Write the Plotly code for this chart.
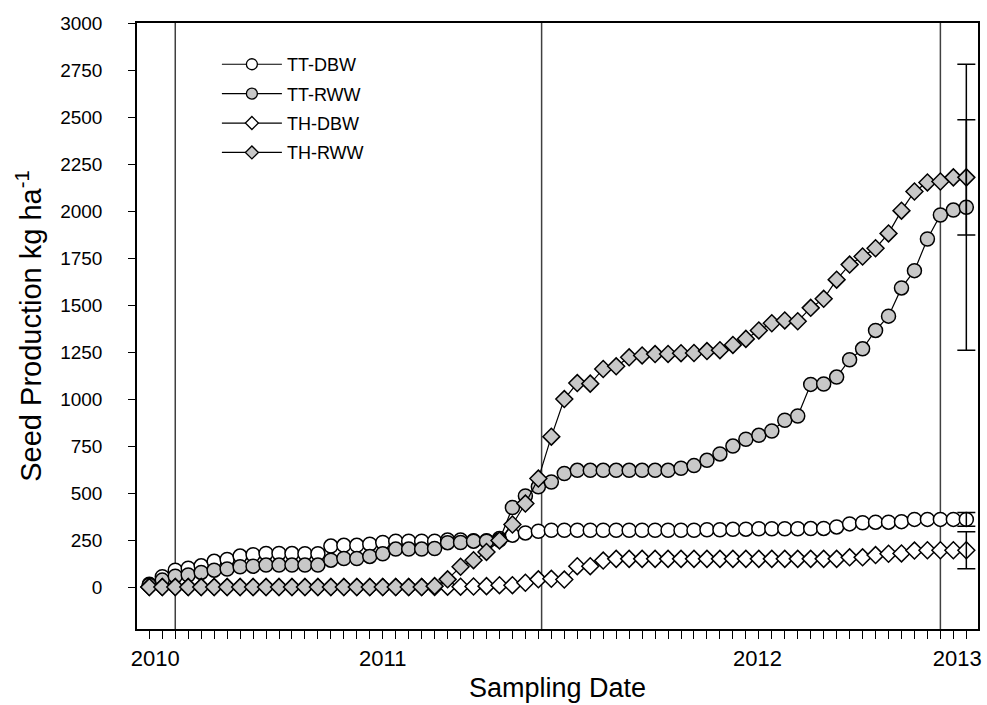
import plotly.graph_objects as go

# ---------------- data ----------------
sample_index = list(range(64))

tt_dbw = [15, 55, 90, 100, 113, 137, 147, 165, 172, 179, 179, 178, 177, 177, 218, 222,
          222, 228, 237, 244, 244, 244, 244, 250, 250, 247, 246, 258, 276, 288, 297, 302,
          302, 302, 302, 302, 302, 302, 302, 302, 302, 302, 302, 305, 305, 307, 308, 310,
          310, 310, 310, 311, 312, 320, 336, 342, 345, 345, 348, 360, 360, 360, 360, 360]

tt_rww = [10, 37, 58, 64, 78, 90, 96, 108, 111, 117, 117, 117, 117, 117, 143, 152,
          152, 163, 177, 202, 202, 202, 205, 236, 237, 244, 244, 250, 423, 485, 533, 559,
          604, 621, 621, 621, 621, 621, 621, 621, 621, 632, 646, 674, 708, 750, 786, 807,
          830, 887, 910, 1078, 1080, 1117, 1209, 1267, 1365, 1441, 1591, 1683, 1851, 1979, 2005, 2020]

th_dbw = [0, 0, 0, 0, 0, 0, 0, 0, 0, 0, 0, 0, 0, 0, 0, 0,
          0, 0, 0, 0, 0, 0, 0, 2, 2, 3, 5, 10, 10, 23, 41, 44,
          40, 111, 111, 141, 150, 150, 150, 150, 150, 150, 150, 150, 150, 150, 150, 150,
          150, 150, 150, 150, 150, 150, 158, 158, 170, 177, 179, 194, 196, 196, 196, 196]

th_rww = [0, 0, 0, 0, 0, 0, 0, 0, 0, 0, 0, 0, 0, 0, 0, 0,
          0, 0, 0, 0, 0, 0, 5, 41, 108, 143, 187, 248, 333, 444, 577, 800,
          1000, 1085, 1082, 1160, 1174, 1222, 1232, 1239, 1240, 1244, 1245, 1255, 1260, 1288, 1320, 1365,
          1403, 1418, 1414, 1485, 1533, 1635, 1715, 1758, 1802, 1881, 2002, 2104, 2152, 2157, 2179, 2179]

# error (+/-) at the final sampling date
final_err = {"TT-DBW": 37, "TT-RWW": 760, "TH-DBW": 98, "TH-RWW": 306}

year_positions = [0.45, 18.0, 46.9, 62.3]
year_labels = ["2010", "2011", "2012", "2013"]

ref_lines = [2, 30.25, 61]

y_ticks = list(range(0, 3001, 250))

# ---------------- figure ----------------
FONT = "Liberation Sans, Arial, sans-serif"
GRAY = "#c8c8c8"

series = [
    ("TT-DBW", tt_dbw, "circle", "white", 14),
    ("TT-RWW", tt_rww, "circle", GRAY, 14),
    ("TH-DBW", th_dbw, "diamond", "white", 13),
    ("TH-RWW", th_rww, "diamond", GRAY, 13),
]

fig = go.Figure()

for name, vals, sym, fill, size in series:
    fig.add_trace(go.Scatter(
        x=sample_index, y=vals, name=name, mode="lines+markers",
        showlegend=False,
        line=dict(color="black", width=1.2),
        marker=dict(symbol=sym, size=size, color=fill,
                    line=dict(color="black", width=1.5)),
    ))

for name, vals, sym, fill, size in series:
    fig.add_trace(go.Scatter(
        x=[sample_index[-1]], y=[vals[-1]], mode="markers", showlegend=False,
        marker=dict(size=1, color="rgba(0,0,0,0)"),
        error_y=dict(type="data", array=[final_err[name]], visible=True,
                     color="black", thickness=1.5, width=9),
        hoverinfo="skip",
    ))

# legend-only entries (smaller symbols, like the reference key)
for name, vals, sym, fill, size in series:
    fig.add_trace(go.Scatter(
        x=[None], y=[None], name=name, mode="lines+markers", legendgroup=name,
        line=dict(color="black", width=1.2),
        marker=dict(symbol=sym, size=size - 3, color=fill,
                    line=dict(color="black", width=1.3)),
    ))

for xv in ref_lines:
    fig.add_shape(type="line", xref="x", yref="paper", x0=xv, x1=xv, y0=0, y1=1,
                  line=dict(color="#404040", width=1.5), layer="below")

fig.update_layout(
    width=987, height=705,
    margin=dict(l=137, r=9, t=23, b=76),
    paper_bgcolor="white", plot_bgcolor="white",
    font=dict(family=FONT, color="black"),
    showlegend=True,
    legend=dict(x=0.095, y=0.962, xanchor="left", yanchor="top",
                bgcolor="rgba(0,0,0,0)", font=dict(size=18, family=FONT),
                itemwidth=60, tracegroupgap=3, traceorder="grouped"),
    xaxis=dict(
        range=[-0.95, 63.9], automargin=False,
        tickmode="array", tickvals=year_positions, ticktext=year_labels,
        ticks="", tickfont=dict(size=22, family=FONT),
        ticklabelstandoff=9, ticklabeloverflow="allow",
        minor=dict(tickmode="array", tickvals=sample_index, ticks="outside",
                   ticklen=8, tickwidth=1.3, tickcolor="black", showgrid=False),
        showgrid=False, zeroline=False,
        showline=True, linecolor="black", linewidth=1.5, mirror=True,
        title=dict(text="Sampling Date", font=dict(size=27, family=FONT), standoff=8),
    ),
    yaxis=dict(
        range=[-223, 3000], automargin=False,
        tickmode="array", tickvals=y_ticks,
        ticks="outside", ticklen=7, tickwidth=1.3, tickcolor="black",
        tickfont=dict(size=19, family=FONT),
        ticklabelstandoff=22, ticklabeloverflow="allow",
        showgrid=False, zeroline=False,
        showline=True, linecolor="black", linewidth=1.5, mirror=True,
        title=dict(text="Seed Production kg ha<sup>-1</sup>",
                   font=dict(size=29, family=FONT), standoff=10),
    ),
)

fig.write_html("out.html",
               config={"displayModeBar": False},
               post_script="document.body.style.margin='0';document.body.style.overflow='hidden';")
